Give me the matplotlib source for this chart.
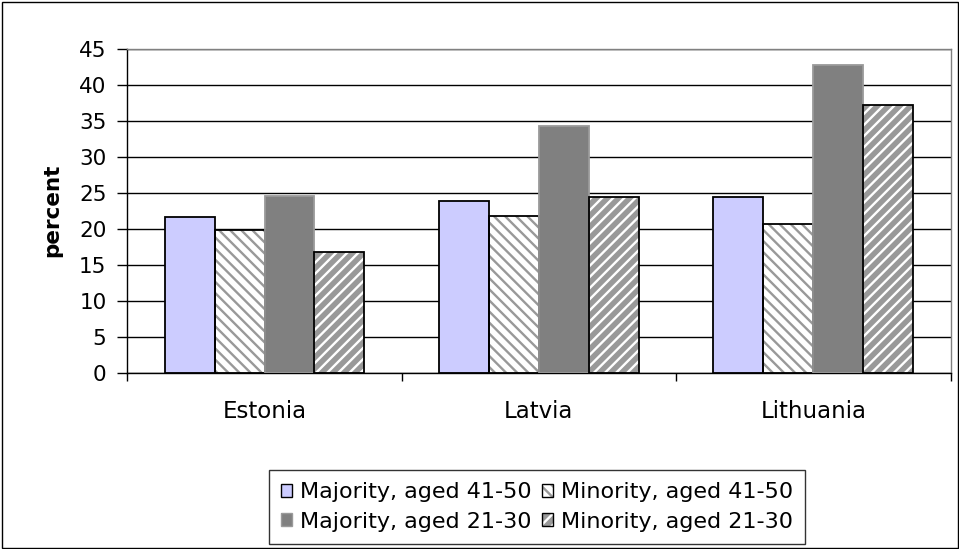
import matplotlib
matplotlib.use("Agg")
import matplotlib.pyplot as plt
import numpy as np
from matplotlib.patches import Patch, Rectangle
from matplotlib.legend_handler import HandlerTuple

plt.rcParams['font.family'] = ['DejaVu Sans']
plt.rcParams['hatch.linewidth'] = 1.7

categories = ["Estonia", "Latvia", "Lithuania"]
series_names = ["Majority, aged 41-50", "Minority, aged 41-50",
                "Majority, aged 21-30", "Minority, aged 21-30"]
maj_41_50 = [21.6, 23.9, 24.4]
min_41_50 = [19.8, 21.8, 20.6]
maj_21_30 = [24.5, 34.2, 42.7]
min_21_30 = [16.7, 24.4, 37.2]
yticks = [0, 5, 10, 15, 20, 25, 30, 35, 40, 45]

series_values = [maj_41_50, min_41_50, maj_21_30, min_21_30]
styles = [
    dict(face="#CCCCFF", hatch=None, hcol="#CCCCFF", edge="black"),
    dict(face="white", hatch="\\\\\\", hcol="#999999", edge="black"),
    dict(face="#808080", hatch=None, hcol="#808080", edge="#9a9a9a"),
    dict(face="#999999", hatch="///", hcol="white", edge="black"),
]

W, H = 959, 549
fig = plt.figure(figsize=(W / 100, H / 100), dpi=100)
ax = fig.add_axes([127.3 / W, 1 - 372.7 / H, 823.2 / W, 324.0 / H])

x = np.arange(len(categories))
bw = 0.182
handles = []
for i, (vals, st) in enumerate(zip(series_values, styles)):
    pos = x + (i - 1.5) * bw
    ax.bar(pos, vals, width=bw, color=st["face"], edgecolor=st["hcol"],
           hatch=st["hatch"], linewidth=0, zorder=2)
    ax.bar(pos, vals, width=bw, fill=False, edgecolor=st["edge"],
           linewidth=1.3, zorder=3)
    h1 = Patch(facecolor=st["face"], edgecolor=st["hcol"], hatch=st["hatch"], linewidth=0)
    h2 = Patch(fill=False, edgecolor=st["edge"], linewidth=1.0)
    handles.append((h1, h2))

ax.set_xlim(-0.5, len(categories) - 0.5)
ax.set_ylim(0, 45)
ax.set_yticks(yticks)
ax.set_yticklabels([str(v) for v in yticks], fontsize=15.5)
ax.yaxis.grid(True, color="black", linewidth=1.0, zorder=0)
ax.set_axisbelow(True)

ax.set_xticks(x)
ax.set_xticklabels(categories, fontsize=16.5)
ax.tick_params(axis='x', which='major', length=0, pad=20)
ax.set_xticks(np.arange(len(categories) + 1) - 0.5, minor=True)
ax.tick_params(axis='x', which='minor', length=5.5, width=1, color='black', direction='out')
ax.tick_params(axis='y', length=7, width=1, direction='out', pad=8)

for s in ["left", "bottom"]:
    ax.spines[s].set_color("black")
    ax.spines[s].set_linewidth(1.0)
for s in ["top", "right"]:
    ax.spines[s].set_color("#808080")
    ax.spines[s].set_linewidth(1.0)

ax.set_ylabel("percent", fontsize=15.5, fontweight="bold", labelpad=12)

# legend filled column-wise: reorder so rows read Maj41/Min41, Maj21/Min21
order = [0, 2, 1, 3]
leg = fig.legend([handles[k] for k in order], [series_names[k] for k in order],
                 ncol=2, loc="center",
                 bbox_to_anchor=(537 / W, 1 - 507 / H),
                 handler_map={tuple: HandlerTuple(ndivide=1)},
                 fontsize=16, frameon=True, fancybox=False,
                 handlelength=0.5, handleheight=0.5, handletextpad=0.35,
                 columnspacing=0.45, borderpad=0.55, labelspacing=0.42,
                 borderaxespad=0)
leg.get_frame().set_edgecolor("black")
leg.get_frame().set_linewidth(1.0)

fig.patches.append(Rectangle((1.5 / W, 1.5 / H), 1 - 3 / W, 1 - 3 / H, fill=False,
                             edgecolor="black", linewidth=1.0,
                             transform=fig.transFigure, figure=fig))

fig.savefig("out.png", dpi=100)
